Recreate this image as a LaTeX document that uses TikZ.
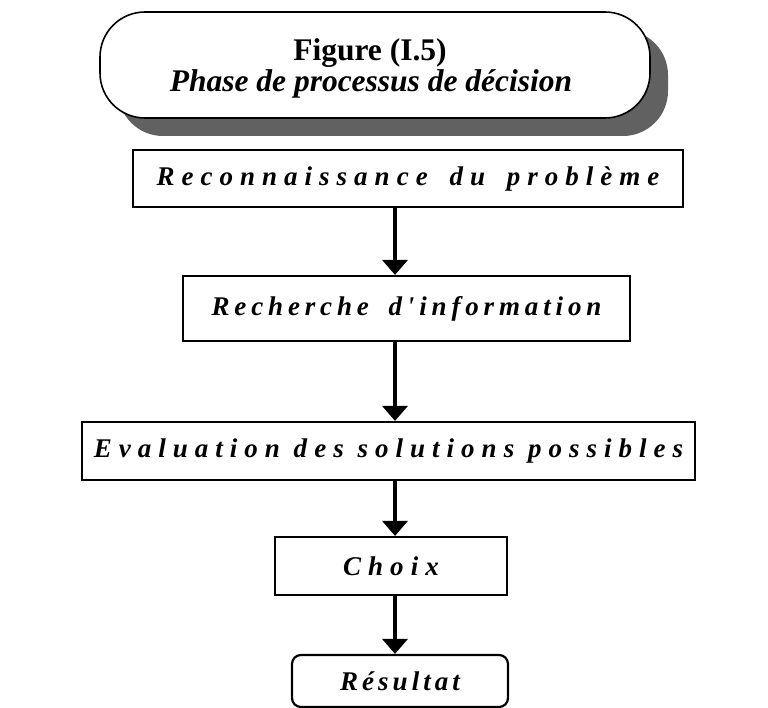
\documentclass[tikz,border=0pt]{standalone}
\usepackage{fontspec}
\setmainfont{Liberation Serif}
\newfontfamily\spacedfont[LetterSpace=26]{Liberation Serif}
\newfontfamily\spacedfontB[LetterSpace=18]{Liberation Serif}
\newfontfamily\spacedfontC[LetterSpace=15]{Liberation Serif}
\newcommand{\wgap}{\hspace{8pt}}
\usetikzlibrary{arrows.meta,shadows}
\begin{document}
\begin{tikzpicture}[x=1pt,y=-1pt,
  titlebox/.style={draw,line width=1.6pt,rounded corners=45pt,fill=white,
    minimum width=550pt,minimum height=106pt,
    drop shadow={shadow xshift=18pt,shadow yshift=-18pt,fill=black!62,opacity=1}},
  stepbox/.style={draw,line width=2.2pt,fill=white,inner sep=0pt,
    font=\spacedfont\bfseries\itshape\fontsize{27}{30}\selectfont},
  flow/.style={line width=4pt,-{Triangle[width=25pt,length=15pt]}}]
\useasboundingbox (0,0) rectangle (768,708);
% title
\node[titlebox] (title) at (375,65) {};
\node[font=\bfseries\fontsize{31.5}{34}\selectfont] (fig) at (370,53) {Figure (I.5)};
\node[font=\bfseries\itshape\fontsize{31.5}{34}\selectfont] (phase) at (371,84) {Phase de processus de décision};
% steps
\node[stepbox,minimum width=550pt,minimum height=57pt] (s1) at (408,178.5)
  {Reconnaissance\wgap{} du\wgap{} problème\hspace{21pt}};
\node[stepbox,minimum width=447pt,minimum height=65pt,
  font=\spacedfontB\bfseries\itshape\fontsize{27}{30}\selectfont] (s2) at (406.5,308.5)
  {Recherche\wgap{} d'information};
\node[stepbox,minimum width=613pt,minimum height=58pt] (s3) at (388.5,451)
  {Evaluation des solutions possibles};
\node[stepbox,minimum width=232pt,minimum height=58pt] (s4) at (391,566) {Choix};
\node[stepbox,rounded corners=9pt,minimum width=216pt,minimum height=52pt,
  font=\spacedfontC\bfseries\itshape\fontsize{27}{30}\selectfont] (s5) at (400,681)
  {Résultat\hspace{-6pt}};
% connectors
\draw[flow] (s1.south -| 395,0) -- (s2.north -| 395,0);
\draw[flow] (s2.south -| 395,0) -- (s3.north -| 395,0);
\draw[flow] (s3.south -| 395,0) -- (s4.north -| 395,0);
\draw[flow] (s4.south -| 395,0) -- (s5.north -| 395,0);
\end{tikzpicture}
\end{document}
